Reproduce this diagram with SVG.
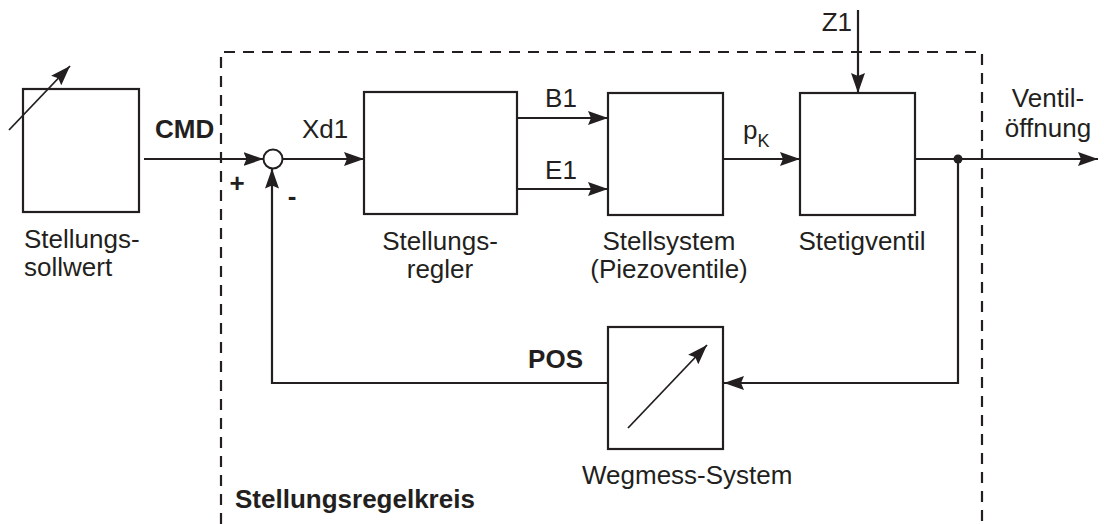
<svg xmlns="http://www.w3.org/2000/svg" width="1104" height="524" viewBox="0 0 1104 524">
<style>
.box{fill:#fff;stroke:#231f20;stroke-width:2.2}
.ln{fill:none;stroke:#231f20;stroke-width:2.2}
.thin{fill:none;stroke:#231f20;stroke-width:1.8}
.t{font-family:"Liberation Sans",Arial,sans-serif;font-size:26px;fill:#231f20}
.b{font-weight:bold}
.dash{fill:none;stroke:#231f20;stroke-width:2.2;stroke-dasharray:11 8}
</style>
<defs>
<marker id="ah" markerWidth="20" markerHeight="14" refX="20" refY="7" orient="auto" markerUnits="userSpaceOnUse">
<path d="M0,0 L20,7 L0,14 L3,7 z" fill="#231f20"/>
</marker>
</defs>
<rect width="1104" height="524" fill="#fff"/>
<g id="frame">
<path class="dash" d="M221,524 V52 H982 V524"/>
<text class="t b" x="235" y="508">Stellungsregelkreis</text>
</g>
<g id="sollwert">
<rect class="box" x="23" y="89" width="116" height="123"/>
<line class="thin" x1="9" y1="130" x2="70" y2="66" marker-end="url(#ah)"/>
<text class="t" x="24" y="248">Stellungs-</text>
<text class="t" x="24" y="276">sollwert</text>
</g>
<g id="summer">
<circle cx="273" cy="159" r="9.5" fill="#fff" stroke="#231f20" stroke-width="2"/>
<text class="t b" x="237" y="192" text-anchor="middle">+</text>
<text class="t b" x="292" y="205" text-anchor="middle">-</text>
</g>
<g id="regler">
<rect class="box" x="364" y="92" width="153" height="122"/>
<text class="t" x="440" y="250" text-anchor="middle">Stellungs-</text>
<text class="t" x="440" y="278" text-anchor="middle">regler</text>
</g>
<g id="stellsystem">
<rect class="box" x="608" y="93" width="115" height="122"/>
<text class="t" x="669" y="250" text-anchor="middle">Stellsystem</text>
<text class="t" x="669" y="278" text-anchor="middle">(Piezoventile)</text>
</g>
<g id="stetigventil">
<rect class="box" x="800" y="93" width="115" height="122"/>
<text class="t" x="862" y="250" text-anchor="middle">Stetigventil</text>
</g>
<g id="wegmess">
<rect class="box" x="608" y="327" width="115" height="122"/>
<line class="thin" x1="628" y1="428" x2="707" y2="345" marker-end="url(#ah)"/>
<text class="t" x="582" y="484">Wegmess-System</text>
</g>
<g id="connectors">
<path class="ln" d="M144,159 H263.5" marker-end="url(#ah)"/>
<path class="ln" d="M283,159 H364" marker-end="url(#ah)"/>
<path class="ln" d="M517,118 H608" marker-end="url(#ah)"/>
<path class="ln" d="M517,189 H608" marker-end="url(#ah)"/>
<path class="ln" d="M723,159 H800" marker-end="url(#ah)"/>
<path class="ln" d="M858,10 V93" marker-end="url(#ah)"/>
<path class="ln" d="M915,159 H1098" marker-end="url(#ah)"/>
<path class="ln" d="M958,159 V383 H724" marker-end="url(#ah)"/>
<path class="ln" d="M608,383 H272 V168.5" marker-end="url(#ah)"/>
<circle cx="958" cy="159" r="4.5" fill="#231f20"/>
<text class="t b" x="155" y="138">CMD</text>
<text class="t" x="302" y="138">Xd1</text>
<text class="t" x="561" y="107" text-anchor="middle">B1</text>
<text class="t" x="561" y="179" text-anchor="middle">E1</text>
<text class="t" x="743" y="139">p<tspan font-size="18" dy="8">K</tspan></text>
<text class="t" x="852" y="31" text-anchor="end">Z1</text>
<text class="t" x="1048" y="107" text-anchor="middle" font-size="25">Ventil-</text>
<text class="t" x="1048" y="137" text-anchor="middle" font-size="25">öffnung</text>
<text class="t b" x="583" y="368" text-anchor="end">POS</text>
</g>
</svg>
